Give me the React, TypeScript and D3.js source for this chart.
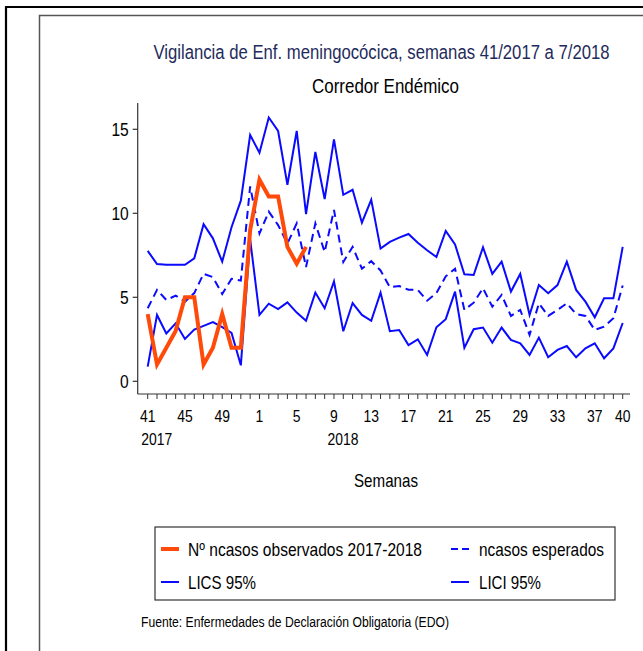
import React from "react";
import * as d3 from "d3";

const weeks = [41,42,43,44,45,46,47,48,49,50,51,52,1,2,3,4,5,6,7,8,9,10,11,12,13,14,15,16,17,18,19,20,21,22,23,24,25,26,27,28,29,30,31,32,33,34,35,36,37,38,39,40];
const tickIdx = [0,4,8,12,16,20,24,28,32,36,40,44,48,51];
const yearLabels = [{ idx: 0, label: "2017" }, { idx: 20, label: "2018" }];

const observed = [4,1,2,3,5,5,1,2,4,2,2,9,12,11,11,8,7,8];
const esperados = [4.35,5.44,4.84,5.1,4.74,5.25,6.4,6.2,5.2,6.1,6.0,11.6,8.8,10.1,9.3,8.2,9.4,6.8,9.4,7.7,10.2,7.1,8.0,6.7,7.15,6.6,5.6,5.67,5.45,5.44,4.8,5.25,6.25,6.7,4.25,4.68,5.54,4.44,5.14,3.89,4.25,2.76,4.64,3.89,4.25,4.64,4.0,3.89,3.06,3.25,3.75,5.7];
const lics = [7.76,6.98,6.94,6.94,6.94,7.32,9.35,8.51,7.12,9.17,10.75,14.66,13.6,15.7,14.9,11.7,14.9,9.95,13.65,10.85,14.4,11.1,11.4,9.44,10.8,7.9,8.3,8.55,8.77,8.25,7.8,7.4,8.95,8.15,6.37,6.33,7.98,6.39,7.12,5.34,6.39,3.95,5.73,5.24,5.73,7.12,5.44,4.74,3.81,4.94,4.94,8.0];
const lici = [0.87,3.95,2.85,3.45,2.52,3.08,3.3,3.52,3.22,2.88,0.95,8.45,3.95,4.62,4.3,4.7,4.09,3.6,5.28,4.35,5.95,2.98,4.66,3.95,3.6,5.28,2.98,3.05,2.16,2.5,1.57,3.22,3.7,5.34,2.0,3.1,3.2,2.3,3.2,2.46,2.26,1.57,2.6,1.43,1.87,2.1,1.43,1.96,2.26,1.37,1.96,3.47];
const yTicks = [0, 5, 10, 15];

const FONT = "'Liberation Sans', Arial, sans-serif";
const BLUE = "#0a0aff";
const ORANGE = "#ff4a0a";

type NProps = { x: number; y: number; size: number; anchor?: "start" | "middle" | "end"; width?: number; sx?: number; fill?: string; children: React.ReactNode };

function NText({ x, y, size, anchor = "start", width, sx = 0.82, fill = "#000", children }: NProps) {
  if (width !== undefined) {
    const startX = anchor === "middle" ? x - width / 2 : anchor === "end" ? x - width : x;
    return (
      <text x={startX} y={y} fontSize={size} fill={fill} textLength={width} lengthAdjust="spacingAndGlyphs">{children}</text>
    );
  }
  return (
    <text transform={`translate(${x},${y}) scale(${sx},1)`} textAnchor={anchor} fontSize={size} fill={fill}>{children}</text>
  );
}

export default function App() {
  const x = d3.scaleLinear().domain([0, weeks.length - 1]).range([147.7, 622.7]);
  const y = d3.scaleLinear().domain([0, 15]).range([381.3, 129.3]);
  const line = d3.line<number>().x((_, i) => x(i)).y((d) => y(d));
  const axisY = 394;
  const axisX = 137.7;

  return (
    <svg width={643} height={651} style={{ position: "absolute", left: 0, top: 0, background: "#fff" }} fontFamily={FONT}>
      <rect x={0} y={0} width={643} height={651} fill="#fff" />
      <path d="M6,651 V7 H643" fill="none" stroke="#000" strokeWidth={2.2} />
      <path d="M39.5,651 V15.5 H643" fill="none" stroke="#555" strokeWidth={1.5} />

      <NText x={381.5} y={59} size={20} anchor="middle" sx={0.835} fill="#1f2b5c">Vigilancia de Enf. meningocócica, semanas 41/2017 a 7/2018</NText>
      <NText x={385.5} y={93} size={20} anchor="middle" width={147}>Corredor Endémico</NText>

      <line x1={axisX} y1={103} x2={axisX} y2={axisY} stroke="#333" strokeWidth={1.2} />
      <line x1={axisX} y1={axisY} x2={630} y2={axisY} stroke="#333" strokeWidth={1.2} />
      {yTicks.map((t) => (
        <g key={t}>
          <line x1={axisX - 5} x2={axisX} y1={y(t)} y2={y(t)} stroke="#333" strokeWidth={1.2} />
          <NText x={axisX - 9} y={y(t) + 7} size={19} anchor="end">{t}</NText>
        </g>
      ))}
      {weeks.map((w, i) => (
        <line key={i} x1={x(i)} x2={x(i)} y1={axisY} y2={axisY + 5} stroke="#333" strokeWidth={1} />
      ))}
      {tickIdx.map((i) => (
        <NText key={"l" + i} x={x(i)} y={422} size={17} anchor="middle">{weeks[i]}</NText>
      ))}
      {yearLabels.map((yl) => (
        <NText key={yl.label} x={x(yl.idx) + 9} y={445} size={17} anchor="middle">{yl.label}</NText>
      ))}
      <NText x={386} y={487} size={19} anchor="middle" width={64}>Semanas</NText>

      <path d={line(lics) || ""} fill="none" stroke={BLUE} strokeWidth={2} />
      <path d={line(lici) || ""} fill="none" stroke={BLUE} strokeWidth={2} />
      <path d={line(esperados) || ""} fill="none" stroke={BLUE} strokeWidth={2} strokeDasharray="8,5" />
      <path d={line(observed) || ""} fill="none" stroke={ORANGE} strokeWidth={4} />

      <rect x={155} y={527} width={460} height={73} fill="#fff" stroke="#333" strokeWidth={1.2} />
      <line x1={161} x2={179} y1={549} y2={549} stroke={ORANGE} strokeWidth={4} />
      <NText x={188} y={556} size={19} width={234}>Nº ncasos observados 2017-2018</NText>
      <line x1={451} x2={469} y1={549} y2={549} stroke={BLUE} strokeWidth={2} strokeDasharray="7,4" />
      <NText x={479} y={556} size={19} width={125}>ncasos esperados</NText>
      <line x1={161} x2={179} y1={582} y2={582} stroke={BLUE} strokeWidth={2} />
      <NText x={188} y={589} size={19} width={68}>LICS 95%</NText>
      <line x1={451} x2={469} y1={582} y2={582} stroke={BLUE} strokeWidth={2} />
      <NText x={479} y={589} size={19} width={62}>LICI 95%</NText>

      <NText x={141} y={627} size={14} width={308}>Fuente: Enfermedades de Declaración Obligatoria (EDO)</NText>
    </svg>
  );
}
